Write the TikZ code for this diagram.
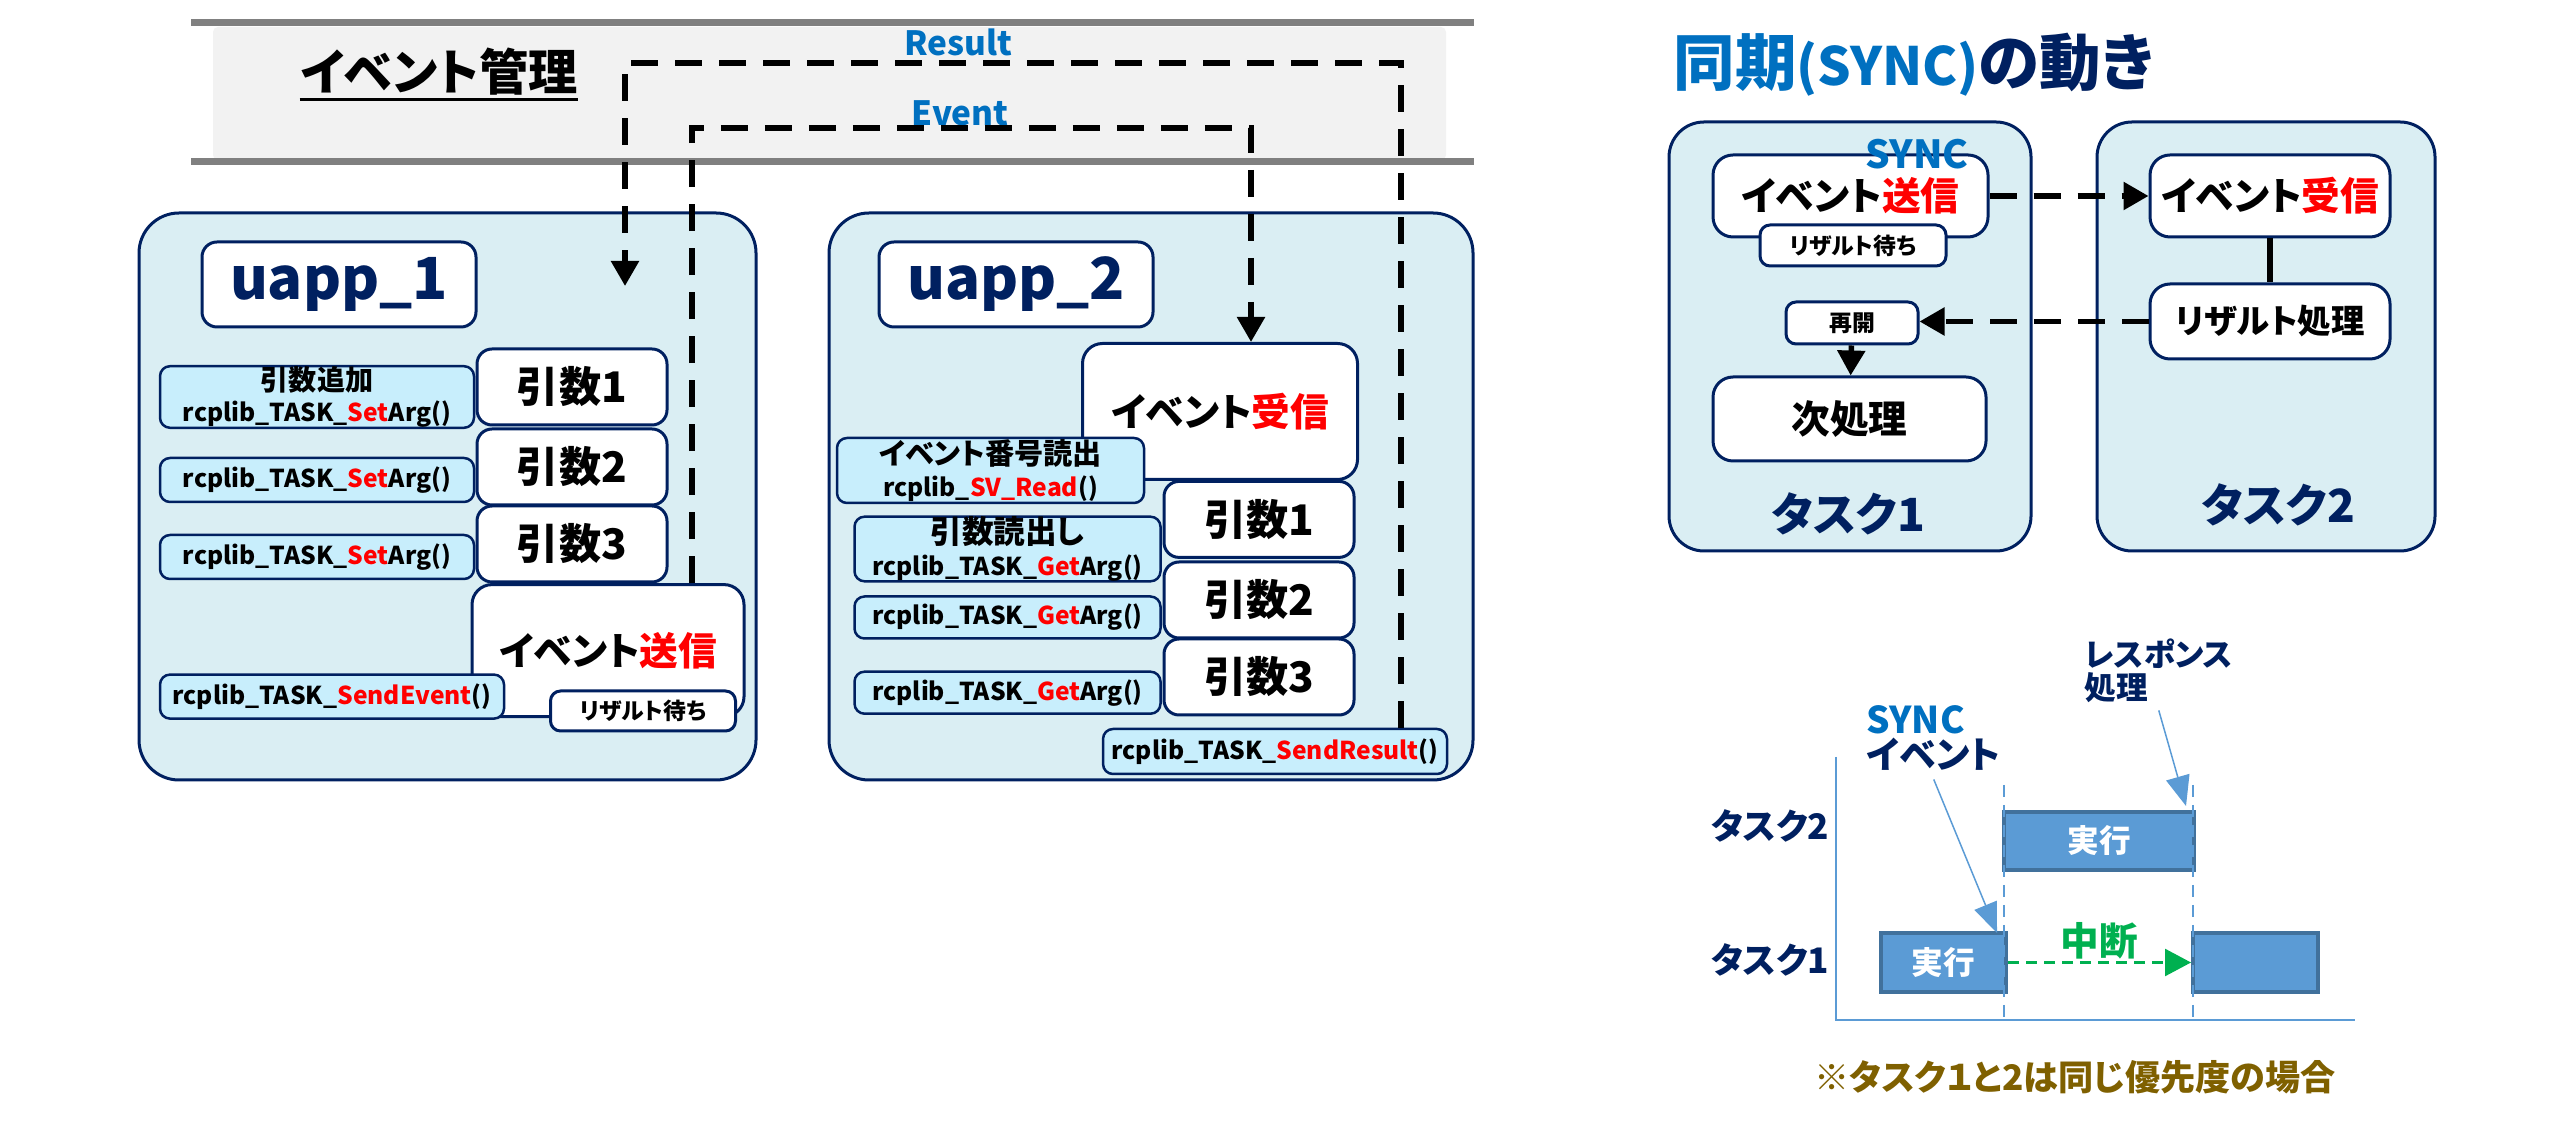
\documentclass[tikz,border=0pt]{standalone}
\usepackage{fontspec}
\setmainfont{Noto Sans CJK JP}[RawFeature=+palt]
\usepackage{tikz}
\usepackage{xcolor}
\usetikzlibrary{arrows.meta}

\definecolor{navy}{HTML}{002060}
\definecolor{sblue}{HTML}{0070C0}
\definecolor{appfill}{HTML}{DAEEF3}
\definecolor{fnfill}{HTML}{C8EEFC}
\definecolor{bandfill}{HTML}{F2F2F2}
\definecolor{bandline}{HTML}{808080}
\definecolor{barfill}{HTML}{5B9BD5}
\definecolor{barline}{HTML}{41719C}
\definecolor{okgreen}{HTML}{00B050}
\definecolor{notebrown}{HTML}{7F6000}

\begin{document}
\begin{tikzpicture}[x=0.1mm,y=-0.1mm]
  \tikzset{app/.style = {draw=navy,fill=appfill,line width=0.3mm,rounded corners=4mm,inner sep=0pt}}
  \tikzset{box/.style = {draw=navy,fill=white,line width=0.3mm,rounded corners=1.5mm,inner sep=0pt,align=center,font=\bfseries}}
  \tikzset{fn/.style = {draw=navy,fill=fnfill,line width=0.25mm,rounded corners=1mm,inner sep=0pt,align=center,font=\fontsize{7pt}{9pt}\selectfont\bfseries}}
  \tikzset{arg/.style = {box,minimum width=19mm,minimum height=7.6mm,font=\fontsize{12pt}{12pt}\selectfont\bfseries}}
  \tikzset{big/.style = {box,rounded corners=2mm,font=\fontsize{11pt}{12pt}\selectfont\bfseries}}
  \tikzset{small/.style = {box,rounded corners=1mm,font=\fontsize{6.5pt}{7pt}\selectfont\bfseries}}
  \tikzset{lbl/.style = {inner sep=0pt,text=navy}}
  \tikzset{dline/.style = {line width=0.55mm,dash pattern=on 2.7mm off 1.7mm,-{Triangle[length=2.5mm,width=2.7mm]}}}
  \tikzset{bar/.style = {draw=barline,fill=barfill,line width=0.4mm,text=white,font=\fontsize{9pt}{9pt}\selectfont\bfseries}}
  \tikzset{ptr/.style = {draw=barfill,line width=0.15mm,-{Triangle[length=3mm,width=2.4mm,fill=barfill]}}}

  \useasboundingbox (0,0) rectangle (2568,1126);

	\node[fill=bandfill,rounded corners=0.5mm,minimum width=123.3mm,minimum height=13.3mm,inner sep=0pt] (band) at (829.5,93.5) {};
	\draw[bandline,line width=0.7mm] (191,23) -- (1474,23);
	\draw[bandline,line width=0.7mm] (191,162) -- (1474,162);
	\node[inner sep=0pt,font=\fontsize{14pt}{14pt}\selectfont\bfseries] (evmgr) at (439,72) {イベント管理};
	\draw[line width=0.35mm] ([yshift=-0.3mm]evmgr.south west) -- ([yshift=-0.3mm]evmgr.south east);
	\node[text=sblue,inner sep=0pt,font=\fontsize{9.5pt}{9.5pt}\selectfont\bfseries] (lres) at (958,42) {Result};
	\node[text=sblue,inner sep=0pt,font=\fontsize{9.5pt}{9.5pt}\selectfont\bfseries] (lev) at (960,113) {Event};

	\node[app,minimum width=61.7mm,minimum height=56.7mm] (app1) at (447.5,496.5) {};
		\node[box,text=navy,minimum width=27.4mm,minimum height=8.5mm,font=\fontsize{16.5pt}{16.5pt}\selectfont\bfseries] (name1) at (339,284.5) {uapp\_1};
		\foreach \i/\y in {1/387,2/467,3/544}
			\node[arg] (a\i) at (572,\y) {引数\i};
		\node[big,minimum width=27.2mm,minimum height=13.2mm] (send) at (608,650.6) {イベント\textcolor{red}{送信}};
		\node[fn,minimum width=31.4mm,minimum height=6mm] (sa1) at (317,397) {{\fontsize{8pt}{8pt}\selectfont 引数追加}\\rcplib\_TASK\_\textcolor{red}{Set}Arg()};
		\node[fn,minimum width=31.4mm,minimum height=4.4mm] (sa2) at (317,480) {rcplib\_TASK\_\textcolor{red}{Set}Arg()};
		\node[fn,minimum width=31.4mm,minimum height=4.4mm] (sa3) at (317,557) {rcplib\_TASK\_\textcolor{red}{Set}Arg()};
		\node[fn,minimum width=34.4mm,minimum height=4.4mm] (sev) at (332,696.6) {rcplib\_TASK\_\textcolor{red}{SendEvent}()};
		\node[small,minimum width=18.5mm,minimum height=4mm] (wait1) at (643,711) {リザルト待ち};

	\node[app,minimum width=64.4mm,minimum height=56.7mm] (app2) at (1151,496.5) {};
		\node[box,text=navy,minimum width=27.4mm,minimum height=8.5mm,font=\fontsize{16.5pt}{16.5pt}\selectfont\bfseries] (name2) at (1016,284.5) {uapp\_2};
		\node[big,minimum width=27.5mm,minimum height=13.6mm] (recv) at (1220,411.5) {イベント\textcolor{red}{受信}};
		\foreach \i/\y in {1/519.4,2/600,3/677}
			\node[arg] (b\i) at (1259,\y) {引数\i};
		\node[fn,minimum width=30.7mm,minimum height=6.5mm] (rd) at (990.5,470.5) {{\fontsize{8.3pt}{8.3pt}\selectfont イベント番号読出}\\rcplib\_\textcolor{red}{SV\_Read}()};
		\node[fn,minimum width=30.6mm,minimum height=6.4mm] (ga1) at (1007.5,549) {{\fontsize{9pt}{9pt}\selectfont 引数読出し}\\rcplib\_TASK\_\textcolor{red}{Get}Arg()};
		\node[fn,minimum width=30.6mm,minimum height=4.2mm] (ga2) at (1007.5,617.5) {rcplib\_TASK\_\textcolor{red}{Get}Arg()};
		\node[fn,minimum width=30.6mm,minimum height=4.2mm] (ga3) at (1007.5,692.7) {rcplib\_TASK\_\textcolor{red}{Get}Arg()};
		\node[fn,minimum width=34.4mm,minimum height=4.5mm] (sres) at (1275,751.5) {rcplib\_TASK\_\textcolor{red}{SendResult}()};

	\coordinate (resR) at (1401,63);
	\coordinate (resL) at (625,63);
	\coordinate (resE) at (625,286);
	\coordinate (evL) at (692,128);
	\coordinate (evR) at (1251,128);
	\draw[dline] (sres.north -| resR) -- (resR) -- (resL) -- (resE);
	\draw[dline] (send.north -| evL) -- (evL) -- (evR) -- (recv.north -| evR);

	\node[anchor=west,inner sep=0pt,font=\fontsize{17.5pt}{17.5pt}\selectfont\bfseries] (sttl) at (1673,65) {\textcolor{sblue}{同期{\fontsize{15pt}{15pt}\selectfont(SYNC)}}\textcolor{navy}{の動き}};

	\node[app,rounded corners=3.5mm,minimum width=36.2mm,minimum height=42.9mm] (k1) at (1850,336.5) {};
		\node[big,minimum width=27.5mm,minimum height=8.2mm] (ssend) at (1850.5,196) {イベント\textcolor{red}{送信}};
		\node[text=sblue,inner sep=0pt,font=\fontsize{11pt}{11pt}\selectfont\bfseries] (sync) at (1917,154) {SYNC};
		\node[small,minimum width=18.6mm,minimum height=4.1mm] (swait) at (1853,245.5) {リザルト待ち};
		\node[small,minimum width=13.2mm,minimum height=4.2mm] (resume) at (1852,323) {再開};
		\node[big,minimum width=27.3mm,minimum height=8.4mm] (nextp) at (1849.5,419) {次処理};
		\node[lbl,font=\fontsize{13pt}{13pt}\selectfont\bfseries] (k1name) at (1848,514) {タスク1};
	\node[app,rounded corners=3.5mm,minimum width=33.8mm,minimum height=42.9mm] (k2) at (2266,336.5) {};
		\node[big,minimum width=24mm,minimum height=8.2mm] (srecv) at (2270,196) {イベント\textcolor{red}{受信}};
		\node[big,minimum width=24mm,minimum height=7.5mm,font=\fontsize{9.5pt}{9.5pt}\selectfont\bfseries] (rproc) at (2270,321.5) {リザルト処理};
		\node[lbl,font=\fontsize{13pt}{13pt}\selectfont\bfseries] (k2name) at (2278,505) {タスク2};

	\draw[dline] (ssend.east) -- (srecv.west);
	\draw[dline] (rproc.west) -- (rproc.west -| resume.east);
	\draw[line width=0.55mm] (srecv) -- (rproc);
	\draw[line width=0.55mm,-{Triangle[length=2.5mm,width=2.7mm]}] (resume) -- (nextp);

	\draw[barfill,line width=0.25mm] (1836,757) -- (1836,1020) -- (2355,1020);
	\node[bar,minimum width=19mm,minimum height=5.8mm] (g2) at (2099,841) {実行};
	\node[bar,minimum width=12.5mm,minimum height=5.9mm] (g1a) at (1943.5,962.5) {実行};
	\node[bar,minimum width=12.5mm,minimum height=5.9mm] (g1b) at (2255.5,962.5) {};
	\foreach \x in {2003.7,2193}
		\draw[barfill,line width=0.2mm,dash pattern=on 1.2mm off 0.8mm] (\x,785) -- (\x,1018);
	\draw[okgreen,line width=0.25mm,dash pattern=on 1.1mm off 0.7mm,-{Triangle[length=2.6mm,width=2.7mm]}] (g1a.east) -- node[above,inner sep=0.5pt,font=\fontsize{11pt}{11pt}\selectfont\bfseries] (stop) {中断} (g1b.west);
	\node[lbl,font=\fontsize{10pt}{10pt}\selectfont\bfseries] (gl2) at (1770,826) {タスク2};
	\node[lbl,font=\fontsize{10pt}{10pt}\selectfont\bfseries] (gl1) at (1770,960) {タスク1};
	\node[lbl,anchor=north west,align=left,font=\fontsize{10.5pt}{10pt}\selectfont\bfseries] (gsync) at (1866,705) {\textcolor{sblue}{SYNC}\\イベント};
	\node[lbl,anchor=north west,align=left,font=\fontsize{9pt}{9.4pt}\selectfont\bfseries] (gresp) at (2084,638) {レスポンス\\処理};
	\coordinate (tip1) at (1997,933);
	\coordinate (tip2) at (2186,806);
	\draw[ptr] ([yshift=-0.8mm]gsync.south) -- (tip1);
	\draw[ptr] ([yshift=-0.7mm]gresp.south) -- (tip2);

	\node[text=notebrown,inner sep=0pt,font=\fontsize{10pt}{10pt}\selectfont\bfseries] (note) at (2075,1077) {※タスク１と2は同じ優先度の場合};

\end{tikzpicture}
\end{document}
